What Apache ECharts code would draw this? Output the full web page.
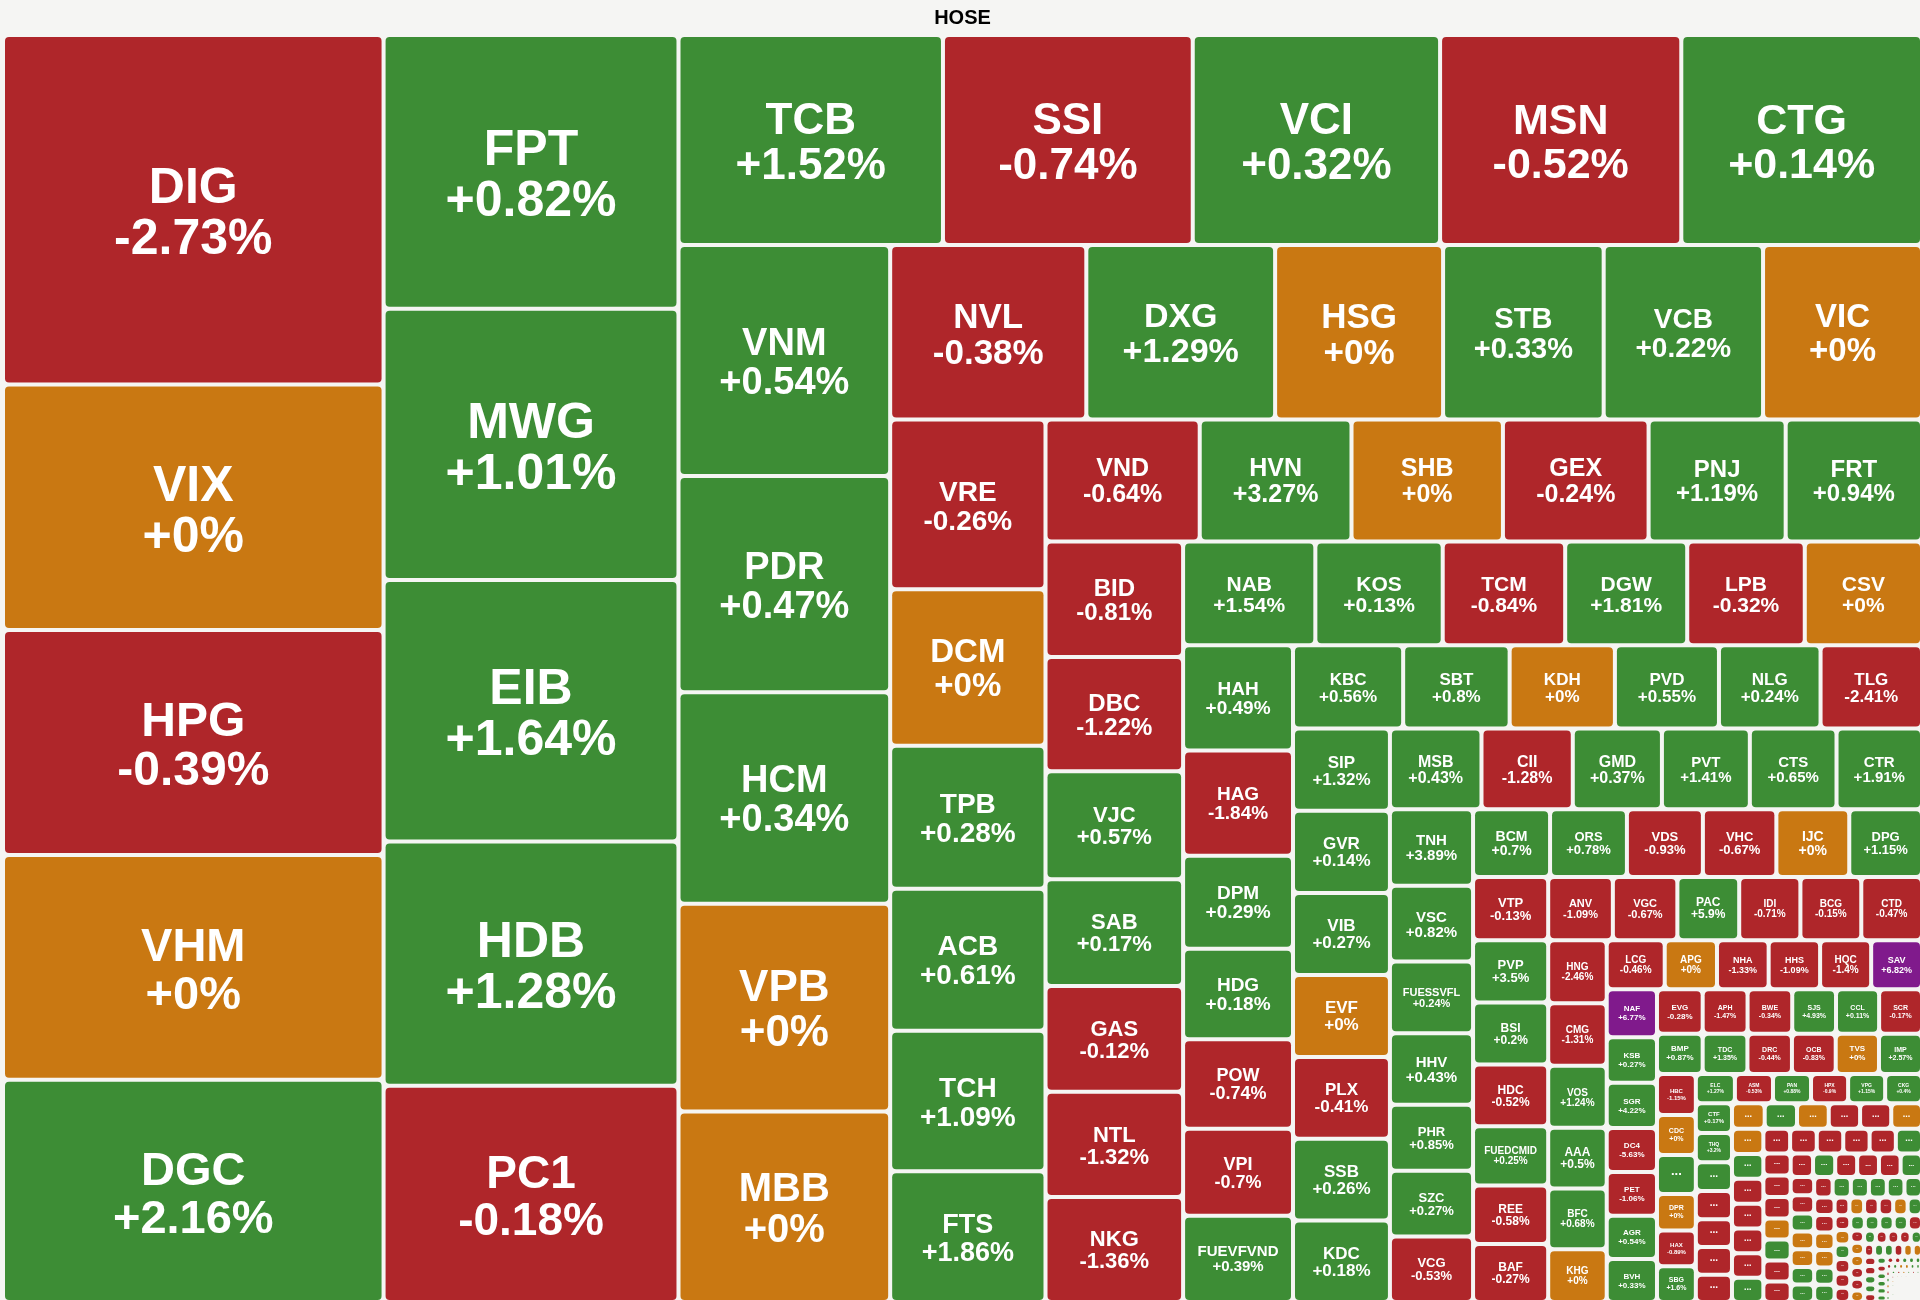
<!DOCTYPE html>
<html>
<head>
<meta charset="utf-8">
<script src="https://cdn.jsdelivr.net/npm/echarts@6/dist/echarts.min.js"></script>
<style>
html,body{margin:0;padding:0;background:#f5f5f3;overflow:hidden}
#c{width:1920px;height:1300px}
</style>
</head>
<body>
<div id="c"></div>
<script>
// ---- DATA ----
const tickersLarge = ['DIG','VIX','HPG','VHM','DGC','FPT','MWG','EIB','HDB','PC1','TCB','SSI','VCI','MSN','CTG','VNM','PDR','HCM','VPB','MBB','NVL','DXG','HSG','STB','VCB','VIC','VRE','DCM','TPB','ACB','TCH','FTS','VND','HVN','SHB','GEX','PNJ','FRT','BID','DBC','VJC','SAB','GAS','NTL','NKG','NAB','KOS','TCM','DGW','LPB','CSV'];
const capsLarge = [133366,93729,85900,85700,84870,80944,80221,77330,72271,63960,55706,52611,52095,50806,50700,49026,45913,44876,44097,40466,34306,33020,29375,28088,27874,27800,26469,24374,22280,22089,21899,20375,18892,18593,18550,17843,16793,16700,15927,15757,14910,14741,14571,14520,14500,13764,13255,12745,12700,12235,12200];
const changesLarge = [-2.73,0,-0.39,0,2.16,0.82,1.01,1.64,1.28,-0.18,1.52,-0.74,0.32,-0.52,0.14,0.54,0.47,0.34,0,0,-0.38,1.29,0,0.33,0.22,0,-0.26,0,0.28,0.61,1.09,1.86,-0.64,3.27,0,-0.24,1.19,0.94,-0.81,-1.22,0.57,0.17,-0.12,-1.32,-1.36,1.54,0.13,-0.84,1.81,-0.32,0];

const tickersMid = ['HAH','HAG','DPM','HDG','POW','VPI','FUEVFVND','KBC','SBT','KDH','PVD','NLG','TLG','SIP','GVR','VIB','EVF','PLX','SSB','KDC','MSB','CII','GMD','PVT','CTS','CTR','TNH','VSC','FUESSVFL','HHV','PHR','SZC','VCG','BCM','ORS','VDS','VHC','IJC','DPG','VTP','PVP','BSI','HDC','FUEDCMID','REE','BAF','ANV','VGC','PAC','IDI','BCG','CTD','HNG','CMG','VOS','AAA','BFC','KHG','LCG','APG','NHA','HHS','HQC','SAV','NAF','KSB','SGR','DC4','PET','AGR','BVH','EVG','APH','BWE','SJS','CCL','SCR','BMP','TDC','DRC','OCB','TVS','IMP','HBC','CDC','FUEKIV30','DPR','HAX','SBG','ELC','ASM','PAN','HPX','VPG','CKG','CTF','THQ','FUEMAV30','FUEVN100','FUEKIVFS','FUEIP100','FUEBFVND'];
const capsMid = [11600,11580,10256,9986,9851,9600,9500, 9176,8870,8768,8667,8463,8450, 8000,7990,7980,7970,7950,7940,7930, 7420,7400,7224,7125,7026,6927, 6390,6300,5980,5960,5500,5480,5470, 5240,5230,5170,5000,4960,4950, 4760,4690,4680,4650,4460,4400,4380, 4100,4090,3920,3880,3860,3850, 3690,3680,3630,3570,3560,3100, 2840,2560,2530,2520,2500,2490, 2425,2300,2275,2220,2200,2180,2170, 2046,2010,2000,1960,1930,1920, 1837,1800,1790,1760,1740,1730, 1598,1560,1520,1420,1400,1390, 1150,1121,1120,1092,1090,1085, 1080,1062,1044,1020,1010,1000,990];
const changesMid = [0.49,-1.84,0.29,0.18,-0.74,-0.7,0.39, 0.56,0.8,0,0.55,0.24,-2.41, 1.32,0.14,0.27,0,-0.41,0.26,0.18, 0.43,-1.28,0.37,1.41,0.65,1.91, 3.89,0.82,0.24,0.43,0.85,0.27,-0.53, 0.7,0.78,-0.93,-0.67,0,1.15, -0.13,3.5,0.2,-0.52,0.25,-0.58,-0.27, -1.09,-0.67,5.9,-0.71,-0.15,-0.47, -2.46,-1.31,1.24,0.5,0.68,0, -0.46,0,-1.33,-1.09,-1.4,6.82, 6.77,0.27,4.22,-5.63,-1.06,0.54,0.33, -0.28,-1.47,-0.34,4.93,0.11,-0.17, 0.87,1.35,-0.44,-0.83,0,2.57, -1.15,0,0.31,0,-0.89,1.6, 1.27,-0.53,0.88,-0.9,1.15,0.4, 0.17,3.2,0.12,-0.35,-0.6,-0.42,-0.25];

const tickersSmall = ['TCD','SVD','VNL','TTE','PGV','DAH','HU1','SMC','TDH','SFG','PTC','HTN','ST8','CRC','NVT','DTL','TNI','LDG','TCO','ITD','SGT','QBS','VSI','TMT','BKG','HTI','SVT','DHM','FIR','PGD','TTA','SZL','FDC','CLW','NHT','VMD','TDW','HMC','PMG','TLD','SVC','DAT','LGL','TNC','CMV','HAR','VPS','CIG','SC5','TIX','LM8','YBM','TMS','HVX','TNT','RDP','PIT','DTA','SBV','VPH','TPC','TDG','COM','GTA','BTT','SRC','VTB','TDM','HRC','TTF','SFC','DXV','CCI','PTL','NAV','HOT','MCP','PNC','DTT','VCF','CLL','ABT','SMA','VID','TRC','SAM','SGN','VNE','LEC','BMC','PJT','SJD','GMC','ADP','RAL','TTB','HAS','CAV','KPF','DQC','PSH','LGC','TYA','SVI','TCR','NNC','ACC'];
const capsSmall = [840,830,815,805,800,790, 788,786,784,780,775,770,765, 665,662,658,655,652,650, 600,590,585,580,575,570,565, 525,520,515,512,508,502, 430,427,424,420,416,414,413, 380,375,372,368,364,361, 359,358,357,356,355,354, 262,260,258,257,256,254, 232,230,228,226,225,224, 223,222,220,218,216, 170,168,166,164,162,160, 158,157,156,154,152, 130,128,126,124,122,120, 116,114,112,110,108, 84,82,80,78,76,74, 58,56,54,52,50, 42,41,40,39,38,37];
const changesSmall = [0,0.4,0,-0.6,-0.3,0, 0,0.5,-0.9,-0.4,-1.2,-0.8,0.6, -0.7,-0.5,-1.1,-0.9,-2.1,0.8, -0.6,-1.5,-0.3,0,1.2,-0.4,-0.9, -2.3,0.7,-0.5,-0.2,-1.4,0.3, -0.8,-0.3,1.9,0,0,0.4,0.2, -1.6,0.9,0.3,1.1,0.6,0.5, -0.5,-1.3,0,0,0.7,1.0, -2.0,0,-0.6,-1.2,0,1.4, -0.9,0,0.5,-0.3,-1.8,-0.4, 0.2,0.8,1.5,0.6,-0.5, -0.7,0,0,-1.1,-0.2,0, 0.4,-3.0,-0.8,-1.5,2.1, -0.3,0.6,0.4,-1.0,0,0, -0.6,-0.2,1.3,2.4,-0.9, 0.5,-0.4,0.7,0.3,0.2,1.8, -1.7,-0.2,0.9,0.4,3.1, -0.1,0.6,0,0,0.5,1.1];

const tickersTail = ['ABR','ABS','ACG','ACL','ADG','ADS','AGG','AGM','AMD','ANT','APC','ASG','ASP','AST','BBC','BCE','BHN','BIC','BMI','BRC','BSR','BTP','C32','C47','CLC','CMX','CNG','CRE','CSM','CTI','CVT','D2D','DBD','DBT','DCL','DHA','DHC','DHG','DIC','DLG','DMC','DRH','DRL','DSN','DVP','DXS','EMC','FCM','FCN','FIT','FMC','FTM','GDT','GIL','GMH','GSP','HAP','HCD','HHP','HID','HII','HSL','HTL','HTV','HUB','HVH','ICT','ILB','ITA','ITC','JVC','KHP','KMR','L10','LAF','LBM','LHG','LIX','LSS','MCM','MDG','MHC','MIG','MSH','NBB','NCT','NHH','NO1','NSC','NT2','OGC','OPC','PDN','PGC'];
const capsTail = [34,33,32,31,30,29,28,27,26,25,24,23,22,21,20,20,19,19,18,18,17,17,16,16,15,15,15,14,14,14,13,13,13,12,12,12,12,11,11,11,11,10,10,10,10,10,9,9,9,9,9,8,8,8,8,8,8,7,7,7,7,7,7,6,6,6,6,6,6,5,5,5,5,5,5,5,4,4,4,4,4,4,3,3,3,3,3,2,2,2,2,1,1,1];
const changesTail = [-0.8,0.5,0,-1.1,0.3,0.9,-0.4,0,1.2,-0.6, 0.2,-2.0,0,0.7,-0.3,1.5,-0.9,0,0.4,-1.4, 0.6,-0.2,0,2.1,-0.7,0.3,-1.0,0,0.8,-0.5, 1.1,0,-0.3,0.5,-1.6,0.2,0,-0.8,0.9,-0.4, 0,1.3,-0.2,0.6,-1.2,0,0.4,-0.7,0.1,-0.5, 0,1.0,-0.9,0.3,0,-1.3,0.7,-0.1,0,0.5, -0.6,1.4,0,-0.4,0.2,-1.1,0,0.8,-0.3,0.6, 0,-0.9,0.4,-0.2,0,1.7,-0.5,0.3,0,-0.8, 0.9,-1.5,0,0.2,-0.6,0.5,0,-0.3,1.2,-0.7, 0,0.4,-1.0,0.6];

// how many consecutive tickers share each strip (row / column) of the picture
const stripSizes = [5,5,5,5,6,6,6,7,6,7,6,7,6,7,6,7,6,6,6,7,6,6,6,6,7,6,7,6,7,6,7,6,6,6,6,5,6,5,6,5,6,5,6];

const marketTitle = 'HOSE';

// ---- BUILD ----
const tickers = tickersLarge.concat(tickersMid, tickersSmall, tickersTail);
const caps = capsLarge.concat(capsMid, capsSmall, capsTail);
const changes = changesLarge.concat(changesMid, changesSmall, changesTail);
const N = Math.min(tickers.length, caps.length);

const BG = '#f5f5f3';
const COLORS = {up:'#3d8d35', down:'#af262a', flat:'#c97812', ceil:'#801a8c'};
function colorOf(c){ if (c >= 6.5) return COLORS.ceil; if (c > 0) return COLORS.up; if (c < 0) return COLORS.down; return COLORS.flat; }
function pctText(c){ return (c >= 0 ? '+' : '') + c + '%'; }

const FONT = '"Liberation Sans", Arial, Helvetica, sans-serif';
const rich = {};
for (let s = 3; s <= 50; s++) {
  rich['f' + s] = {fontSize: s, lineHeight: Math.round(s * 1.02) + (s < 10 ? 1 : 0), fontWeight: 'bold', color: '#ffffff', fontFamily: FONT};
}
for (let p = 1; p <= 700; p++) {
  rich['p' + p] = {fontSize: 1, lineHeight: p, color: 'rgba(0,0,0,0)'};
}

const changeByName = {};
const leaves = [];
for (let i = 0; i < N; i++) {
  const c = (changes[i] === undefined) ? 0 : changes[i];
  changeByName[tickers[i]] = c;
  leaves.push({name: tickers[i], value: caps[i], itemStyle: {color: colorOf(c), borderWidth: 0, borderRadius: 4}});
}

const GROUP_STYLE = {borderWidth: 0, gapWidth: 4, borderColor: BG, color: BG};
function group(name, children) {
  return {name: name, itemStyle: GROUP_STYLE, upperLabel: {show: false}, label: {show: false}, children: children};
}
// nested strips: [strip, rest] at each step
const starts = [];
let acc = 0;
for (let k = 0; k < stripSizes.length; k++) { starts.push(acc); acc += stripSizes[k]; }
let restNode = acc < N ? group('rest-tail', leaves.slice(acc, N)) : null;
for (let k = stripSizes.length - 1; k >= 0; k--) {
  const strip = group('strip-' + k, leaves.slice(starts[k], starts[k] + stripSizes[k]));
  restNode = restNode ? group('rest-' + k, [strip, restNode]) : strip;
}
const hoseChildren = restNode.children;

const chart = echarts.init(document.getElementById('c'), null, {renderer: 'canvas'});

function getRect(p) {
  try {
    const lay = chart.getModel().getSeriesByIndex(0).getData().getItemLayout(p.dataIndex);
    if (lay && lay.width != null && lay.height != null) return lay;
  } catch (e) {}
  const s = Math.max(0, Math.sqrt(p.value || 0) - 4);
  return {width: s, height: s};
}

function labelFormatter(p) {
  const c = changeByName[p.name];
  if (c === undefined) return '';
  const r = getRect(p);
  const w = r.width, h = r.height;
  if (w < 6 || h < 6) return '';
  const pct = pctText(c);
  const maxLen = Math.max(p.name.length, pct.length);
  let fs = Math.min(50, 0.215 * Math.min(w, h), 1.1 * w / maxLen);
  if (fs < 5) {
    const ds = Math.max(3, Math.min(13, Math.round(0.42 * Math.min(w, h))));
    const lh1 = rich['f' + ds].lineHeight;
    const pad1 = Math.floor((h - lh1) / 2 - 0.2 * ds);
    return (pad1 >= 1 ? '{p' + Math.min(pad1, 700) + '| }\n' : '') + '{f' + ds + '|...}';
  }
  fs = Math.round(fs);
  const lh = rich['f' + fs].lineHeight;
  const pad = Math.floor((h - 2 * lh) / 2 + 0.11 * fs);
  return (pad >= 1 ? '{p' + Math.min(pad, 700) + '| }\n' : '') + '{f' + fs + '|' + p.name + '}\n{f' + fs + '|' + pct + '}';
}

chart.setOption({
  animation: false,
  series: [{
    type: 'treemap',
    left: 0, top: 0, width: 1925, height: 1305,
    roam: false,
    nodeClick: false,
    sort: false,
    squareRatio: 1,
    breadcrumb: {show: false},
    label: {show: true, position: 'inside', align: 'center', verticalAlign: 'middle', padding: 0, overflow: 'none', formatter: labelFormatter, rich: rich},
    upperLabel: {show: false},
    itemStyle: {borderWidth: 0, gapWidth: 0},
    emphasis: {disabled: true},
    levels: [
      {itemStyle: {borderWidth: 0, gapWidth: 0}}
    ],
    data: [{
      name: marketTitle,
      itemStyle: {color: BG, borderColor: BG, borderWidth: 5, gapWidth: 4},
      upperLabel: {show: true, height: 37, position: 'inside', align: 'center', verticalAlign: 'middle', color: '#000', fontSize: 20, fontWeight: 'bold', fontFamily: FONT, formatter: '{b}'},
      children: hoseChildren
    }]
  }]
});
</script>
</body>
</html>
